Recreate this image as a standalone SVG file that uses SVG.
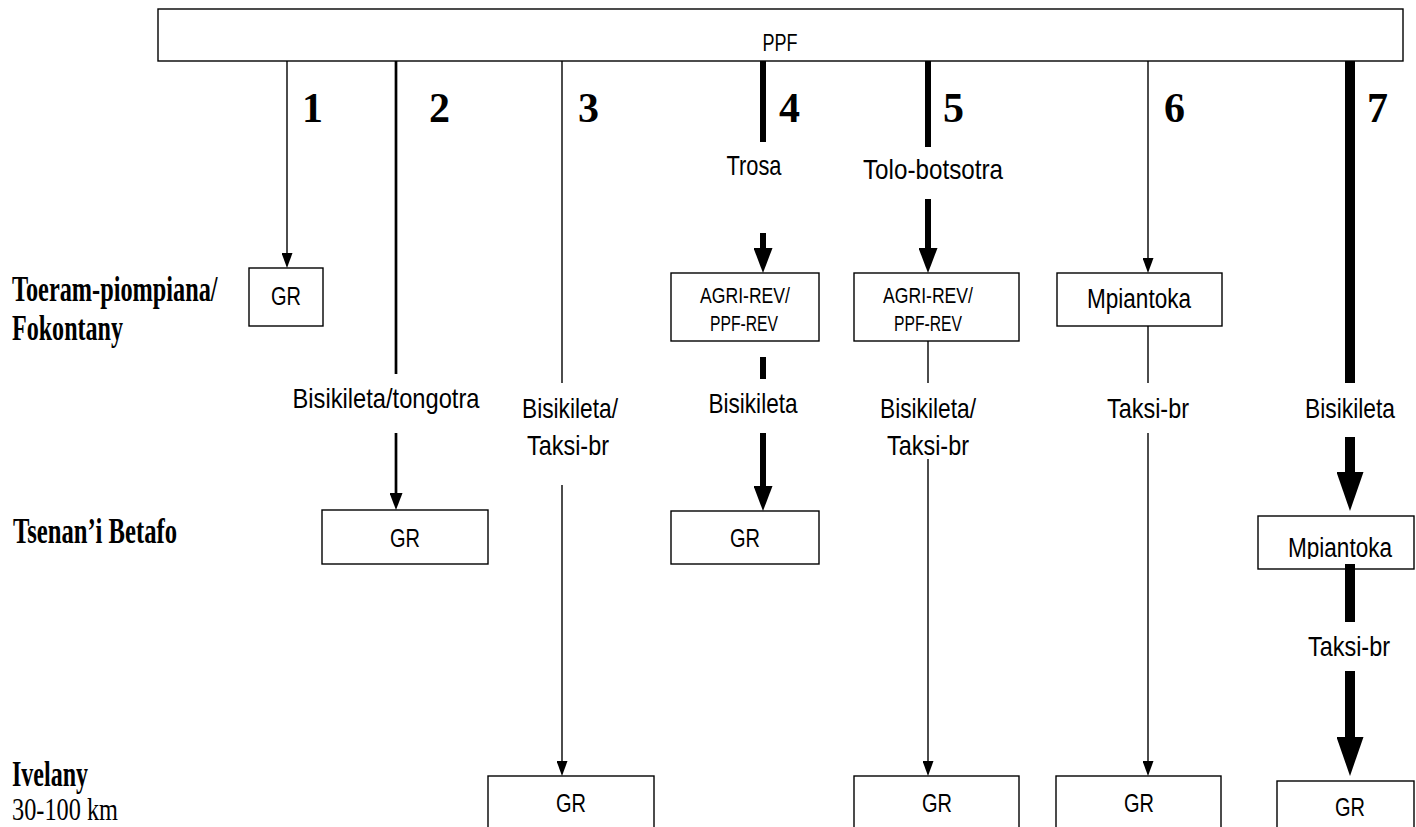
<svg xmlns="http://www.w3.org/2000/svg" width="1416" height="827" viewBox="0 0 1416 827">
<style>
.box{fill:#fff;stroke:#000;stroke-width:1.4}
.s{font-family:'Liberation Sans Narrow','Liberation Sans',sans-serif;fill:#000}
.lbl{font-size:28px;text-anchor:middle}
.gr{font-size:25px;text-anchor:middle}
.sm{font-size:22px;text-anchor:middle}
.mp{font-size:27px;text-anchor:middle}
.sb{font-family:'Liberation Serif','Times New Roman',serif;font-weight:bold;font-size:36px;fill:#000}
.sr{font-family:'Liberation Serif','Times New Roman',serif;font-size:32px;fill:#000}
.num{font-family:'Liberation Serif','Times New Roman',serif;font-weight:bold;font-size:42px;fill:#000}
.c{stroke:#000;fill:none}
.w1{stroke-width:1.4}
.w2{stroke-width:2.7}
.w6{stroke-width:6}
.w10{stroke-width:10}
</style>
<defs>
<marker id="a1" markerUnits="userSpaceOnUse" markerWidth="15" markerHeight="11" refX="0" refY="5.5" orient="auto"><path d="M0,0 L15,5.5 L0,11 Z" fill="#000"/></marker>
<marker id="a2" markerUnits="userSpaceOnUse" markerWidth="17" markerHeight="13" refX="0" refY="6.5" orient="auto"><path d="M0,0 L17,6.5 L0,13 Z" fill="#000"/></marker>
<marker id="a6" markerUnits="userSpaceOnUse" markerWidth="25" markerHeight="19" refX="0" refY="9.5" orient="auto"><path d="M0,0 L25,9.5 L0,19 Z" fill="#000"/></marker>
<marker id="a10" markerUnits="userSpaceOnUse" markerWidth="39" markerHeight="27" refX="0" refY="13.5" orient="auto"><path d="M0,0 L39,13.5 L0,27 Z" fill="#000"/></marker>
<clipPath id="clipM"><rect x="1258" y="516" width="158" height="43"/></clipPath>
</defs>

<g id="levels">
<text class="sb" transform="translate(12,301) scale(0.675,1)" x="0" y="0">Toeram-piompiana/</text>
<text class="sb" x="12" y="340" textLength="111" lengthAdjust="spacingAndGlyphs">Fokontany</text>
<text class="sb" x="13" y="543" textLength="164" lengthAdjust="spacingAndGlyphs">Tsenan’i Betafo</text>
<text class="sb" x="12" y="786" textLength="76" lengthAdjust="spacingAndGlyphs">Ivelany</text>
<text class="sr" x="12" y="820" textLength="106" lengthAdjust="spacingAndGlyphs">30-100 km</text>
</g>

<g id="ppf">
<rect class="box" x="158" y="9" width="1245" height="52"/>
<text class="s sm" x="780" y="51" style="font-size:24px" textLength="35" lengthAdjust="spacingAndGlyphs">PPF</text>
</g>

<g id="gr1"><rect class="box" x="249" y="268" width="74" height="58"/><text class="s gr" x="286" y="305" textLength="30" lengthAdjust="spacingAndGlyphs">GR</text></g>
<g id="gr2"><rect class="box" x="322" y="510" width="166" height="54"/><text class="s gr" x="405" y="547" textLength="30" lengthAdjust="spacingAndGlyphs">GR</text></g>
<g id="gr3"><rect class="box" x="488" y="776" width="166" height="70"/><text class="s gr" x="571" y="812" textLength="30" lengthAdjust="spacingAndGlyphs">GR</text></g>
<g id="agri4"><rect class="box" x="671" y="273" width="148" height="68"/><text class="s sm" x="745" y="303" textLength="90" lengthAdjust="spacingAndGlyphs">AGRI-REV/</text><text class="s sm" x="744" y="331" textLength="68" lengthAdjust="spacingAndGlyphs">PPF-REV</text></g>
<g id="gr4"><rect class="box" x="671" y="511" width="148" height="53"/><text class="s gr" x="745" y="547" textLength="30" lengthAdjust="spacingAndGlyphs">GR</text></g>
<g id="agri5"><rect class="box" x="854" y="273" width="165" height="68"/><text class="s sm" x="928" y="303" textLength="90" lengthAdjust="spacingAndGlyphs">AGRI-REV/</text><text class="s sm" x="928" y="331" textLength="68" lengthAdjust="spacingAndGlyphs">PPF-REV</text></g>
<g id="gr5"><rect class="box" x="854" y="776" width="165" height="70"/><text class="s gr" x="937" y="812" textLength="30" lengthAdjust="spacingAndGlyphs">GR</text></g>
<g id="mpiantoka6"><rect class="box" x="1057" y="273" width="165" height="53"/><text class="s mp" x="1139" y="308" textLength="104" lengthAdjust="spacingAndGlyphs">Mpiantoka</text></g>
<g id="gr6"><rect class="box" x="1056" y="776" width="165" height="70"/><text class="s gr" x="1139" y="812" textLength="30" lengthAdjust="spacingAndGlyphs">GR</text></g>
<g id="mpiantoka7"><rect class="box" x="1258" y="516" width="156" height="53"/><text class="s mp" x="1340" y="557" clip-path="url(#clipM)" textLength="104" lengthAdjust="spacingAndGlyphs">Mpiantoka</text></g>
<g id="gr7"><rect class="box" x="1277" y="781" width="137" height="70"/><text class="s gr" x="1350" y="816" textLength="30" lengthAdjust="spacingAndGlyphs">GR</text></g>

<g id="connectors">
<line class="c w1" x1="287" y1="61" x2="287" y2="253" marker-end="url(#a1)"/>
<line class="c w2" x1="396" y1="61" x2="396" y2="374"/>
<line class="c w2" x1="396" y1="433" x2="396" y2="493" marker-end="url(#a2)"/>
<line class="c w1" x1="562" y1="61" x2="562" y2="383"/>
<line class="c w1" x1="562" y1="485" x2="562" y2="761" marker-end="url(#a1)"/>
<line class="c w6" x1="763" y1="61" x2="763" y2="142"/>
<line class="c w6" x1="763" y1="233" x2="763" y2="248" marker-end="url(#a6)"/>
<line class="c w6" x1="763" y1="357" x2="763" y2="379"/>
<line class="c w6" x1="763" y1="433" x2="763" y2="486" marker-end="url(#a6)"/>
<line class="c w6" x1="928" y1="61" x2="928" y2="147"/>
<line class="c w6" x1="928" y1="199" x2="928" y2="248" marker-end="url(#a6)"/>
<line class="c w1" x1="928" y1="341" x2="928" y2="383"/>
<line class="c w1" x1="928" y1="459" x2="928" y2="761" marker-end="url(#a1)"/>
<line class="c w1" x1="1148" y1="61" x2="1148" y2="258" marker-end="url(#a1)"/>
<line class="c w1" x1="1148" y1="326" x2="1148" y2="383"/>
<line class="c w1" x1="1148" y1="433" x2="1148" y2="761" marker-end="url(#a1)"/>
<line class="c w10" x1="1350" y1="61" x2="1350" y2="383"/>
<line class="c w10" x1="1350" y1="437" x2="1350" y2="472" marker-end="url(#a10)"/>
<line class="c w10" x1="1350" y1="564" x2="1350" y2="622"/>
<line class="c w10" x1="1350" y1="671" x2="1350" y2="737" marker-end="url(#a10)"/>
</g>

<g id="route-numbers">
<text class="num" x="302" y="122">1</text>
<text class="num" x="429" y="122">2</text>
<text class="num" x="578" y="122">3</text>
<text class="num" x="779" y="122">4</text>
<text class="num" x="943" y="122">5</text>
<text class="num" x="1164" y="122">6</text>
<text class="num" x="1367" y="122">7</text>
</g>

<g id="connector-labels">
<text class="s lbl" x="386" y="408" textLength="187" lengthAdjust="spacingAndGlyphs">Bisikileta/tongotra</text>
<text class="s lbl" x="570" y="418" textLength="96" lengthAdjust="spacingAndGlyphs">Bisikileta/</text>
<text class="s lbl" x="568" y="455" textLength="82" lengthAdjust="spacingAndGlyphs">Taksi-br</text>
<text class="s lbl" x="754" y="175" textLength="55" lengthAdjust="spacingAndGlyphs">Trosa</text>
<text class="s lbl" x="753" y="413" textLength="89" lengthAdjust="spacingAndGlyphs">Bisikileta</text>
<text class="s lbl" x="933" y="179" textLength="140" lengthAdjust="spacingAndGlyphs">Tolo-botsotra</text>
<text class="s lbl" x="928" y="418" textLength="96" lengthAdjust="spacingAndGlyphs">Bisikileta/</text>
<text class="s lbl" x="928" y="455" textLength="82" lengthAdjust="spacingAndGlyphs">Taksi-br</text>
<text class="s lbl" x="1148" y="418" textLength="82" lengthAdjust="spacingAndGlyphs">Taksi-br</text>
<text class="s lbl" x="1350" y="418" textLength="90" lengthAdjust="spacingAndGlyphs">Bisikileta</text>
<text class="s lbl" x="1349" y="656" textLength="82" lengthAdjust="spacingAndGlyphs">Taksi-br</text>
</g>
</svg>
